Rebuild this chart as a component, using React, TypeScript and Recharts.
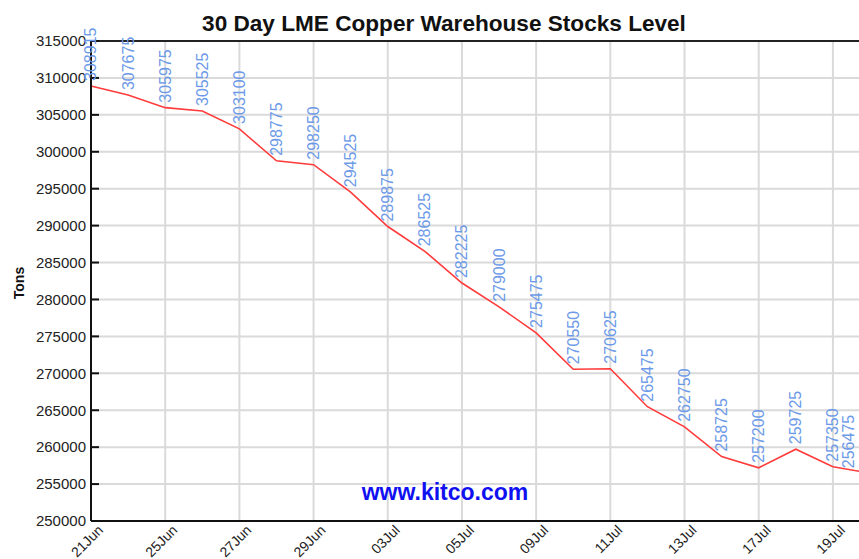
import React from "react";
import {
  LineChart,
  Line,
  XAxis,
  YAxis,
  CartesianGrid,
  ReferenceLine,
  LabelList,
} from "recharts";

const dates = [
  "21Jun", "22Jun", "25Jun", "26Jun", "27Jun", "28Jun", "29Jun",
  "02Jul", "03Jul", "04Jul", "05Jul", "06Jul", "09Jul", "10Jul",
  "11Jul", "12Jul", "13Jul", "16Jul", "17Jul", "18Jul", "19Jul", "20Jul",
];

const stocks = [
  308915, 307675, 305975, 305525, 303100, 298775, 298250,
  294525, 289875, 286525, 282225, 279000, 275475, 270550,
  270625, 265475, 262750, 258725, 257200, 259725, 257350, 256475,
];

const yTicks = [
  250000, 255000, 260000, 265000, 270000, 275000, 280000,
  285000, 290000, 295000, 300000, 305000, 310000, 315000,
];

const title = "30 Day LME Copper Warehouse Stocks Level";
const yLabel = "Tons";
const watermark = "www.kitco.com";

const data = dates.map((d, i) => ({ date: d, v: stocks[i] }));

const FONT = "'Liberation Sans', Arial, sans-serif";

const XTick = (props: any) => {
  const { x, y, payload } = props;
  const ax = x + 13;
  const ay = y + 10;
  return (
    <text
      x={ax}
      y={ay}
      textAnchor="end"
      transform={`rotate(-45, ${ax}, ${ay})`}
      fontFamily={FONT}
      fontSize={14}
      fill="#222"
    >
      {payload.value}
    </text>
  );
};

const ValueLabel = (props: any) => {
  const { x, y, value } = props;
  const lx = Math.min(x + 5.5, 854);
  const ly = y - 5;
  return (
    <text
      x={lx}
      y={ly}
      textAnchor="start"
      transform={`rotate(-90, ${lx}, ${ly})`}
      fontFamily={FONT}
      fontSize={16}
      fill="#6d9ae8"
    >
      {value}
    </text>
  );
};

export default function App() {
  return (
    <div
      style={{
        position: "absolute",
        left: 0,
        top: 0,
        width: 859,
        height: 559,
        overflow: "hidden",
        background: "#fff",
      }}
    >
      <LineChart
        width={880}
        height={559}
        data={data}
        margin={{ top: 41, right: 10, bottom: 0, left: 0 }}
      >
        <CartesianGrid stroke="#dadada" strokeWidth={2} />
        <XAxis
          dataKey="date"
          interval={1}
          tickLine={false}
          tickSize={0}
          tickMargin={0}
          height={38}
          axisLine={{ stroke: "#111", strokeWidth: 2 }}
          tick={<XTick />}
        />
        <YAxis
          domain={[250000, 315000]}
          ticks={yTicks}
          interval={0}
          width={91}
          tickSize={-8}
          tickMargin={13}
          axisLine={{ stroke: "#111", strokeWidth: 2 }}
          tickLine={{ stroke: "#111", strokeWidth: 2 }}
          tick={{ fontFamily: FONT, fontSize: 15, fill: "#222" }}
          allowDataOverflow
        />
        <ReferenceLine y={315000} stroke="#222" strokeWidth={2} />
        <Line
          type="linear"
          dataKey="v"
          stroke="#ff3b3b"
          strokeWidth={1.6}
          dot={false}
          isAnimationActive={false}
        >
          <LabelList dataKey="v" content={<ValueLabel />} />
        </Line>
      </LineChart>
      <svg
        width={859}
        height={559}
        style={{ position: "absolute", left: 0, top: 0, pointerEvents: "none" }}
      >
        <text
          x={444}
          y={31}
          textAnchor="middle"
          fontFamily={FONT}
          fontWeight="bold"
          fontSize={22.6}
          fill="#111"
        >
          {title}
        </text>
        <text
          x={24}
          y={283}
          textAnchor="middle"
          transform="rotate(-90, 24, 283)"
          fontFamily={FONT}
          fontWeight="bold"
          fontSize={14}
          fill="#111"
        >
          {yLabel}
        </text>
        <text
          x={445}
          y={500}
          textAnchor="middle"
          fontFamily={FONT}
          fontWeight="bold"
          fontSize={23}
          fill="#1010f0"
        >
          {watermark}
        </text>
      </svg>
    </div>
  );
}
